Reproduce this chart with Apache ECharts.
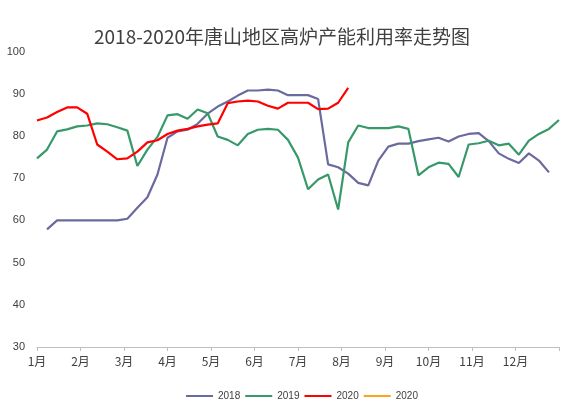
<!DOCTYPE html>
<html>
<head>
<meta charset="utf-8">
<script src="https://cdn.jsdelivr.net/npm/echarts@6/dist/echarts.min.js"></script>
<style>html,body{margin:0;padding:0;background:#fff;}#c{width:573px;height:410px;}</style>
</head>
<body>
<div id="c"></div>
<script>
var monthLabels = ['1月','2月','3月','4月','5月','6月','7月','8月','9月','10月','11月','12月'];
var weeksPerYear = 52;
var s2018 = [null,57.9,60.0,60.0,60.0,60.0,60.0,60.0,60.0,60.4,63.0,65.5,70.9,79.6,81.1,81.5,82.9,85.3,87.0,88.2,89.6,90.8,90.8,91.0,90.8,89.7,89.7,89.7,88.8,73.3,72.6,71.1,68.9,68.3,74.2,77.5,78.2,78.2,78.8,79.2,79.6,78.7,79.9,80.5,80.7,78.8,75.9,74.6,73.6,75.9,74.2,71.4];
var s2019 = [74.7,76.8,81.1,81.6,82.3,82.5,83.0,82.8,82.1,81.3,72.9,76.8,79.8,84.9,85.2,84.1,86.3,85.4,79.9,79.1,77.8,80.5,81.5,81.7,81.5,79.1,74.9,67.4,69.7,70.9,62.6,78.5,82.5,81.9,81.9,81.9,82.3,81.7,70.7,72.6,73.7,73.4,70.3,78.0,78.3,78.9,77.8,78.2,75.6,78.9,80.5,81.7,83.8];
var s2020 = [83.7,84.4,85.7,86.8,86.8,85.3,78.0,76.3,74.5,74.7,76.3,78.5,79.0,80.5,81.3,81.7,82.3,82.7,83.0,87.8,88.2,88.4,88.2,87.2,86.5,87.9,87.9,87.9,86.4,86.5,87.9,91.4];
var s2020b = [];

function toPoints(arr){
  return arr.map(function(v,i){ return [i*12/weeksPerYear, v]; });
}

var chart = echarts.init(document.getElementById('c'));
chart.setOption({
  animation:false,
  backgroundColor:'#fff',
  title:{
    text:'2018-2020年唐山地区高炉产能利用率走势图',
    left:277, top:22, textAlign:'center',
    textStyle:{fontFamily:'Noto Sans CJK SC',fontSize:19,fontWeight:'normal',color:'#404040'}
  },
  legend:{
    bottom:9, left:185, padding:0,
    itemWidth:27, itemHeight:10, itemGap:4,
    itemStyle:{opacity:0},
    textStyle:{fontFamily:'Liberation Sans',fontSize:10,color:'#404040'},
    data:['2018','2019','2020','2020 ']
  },
  grid:{left:37,right:14,top:51.7,bottom:63,containLabel:false},
  xAxis:{
    type:'value', min:0, max:12, interval:1,
    axisLine:{show:true,lineStyle:{color:'#bfbfbf',width:1}},
    axisTick:{show:true,length:4,lineStyle:{color:'#bfbfbf'}},
    splitLine:{show:false},
    axisLabel:{
      fontFamily:'Noto Sans CJK SC',fontSize:12,color:'#404040',margin:8,
      formatter:function(v){ var k=Math.round(v); return k<12?monthLabels[k]:''; }
    }
  },
  yAxis:{
    type:'value', min:30, max:100, interval:10,
    axisLine:{show:false}, axisTick:{show:false},
    splitLine:{show:false},
    axisLabel:{fontFamily:'Liberation Sans',fontSize:11,color:'#404040',margin:12}
  },
  series:[
    {name:'2018',type:'line',symbol:'none',data:toPoints(s2018),itemStyle:{color:'#6b6a9e'},lineStyle:{width:2.2,color:'#6b6a9e'}},
    {name:'2019',type:'line',symbol:'none',data:toPoints(s2019),itemStyle:{color:'#37996a'},lineStyle:{width:2.2,color:'#37996a'}},
    {name:'2020',type:'line',symbol:'none',data:toPoints(s2020),itemStyle:{color:'#ff0000'},lineStyle:{width:2.2,color:'#ff0000'}},
    {name:'2020 ',type:'line',symbol:'none',data:toPoints(s2020b),itemStyle:{color:'#ffa31a'},lineStyle:{width:1.2,color:'#ffa31a'}}
  ]
});
</script>
</body>
</html>
